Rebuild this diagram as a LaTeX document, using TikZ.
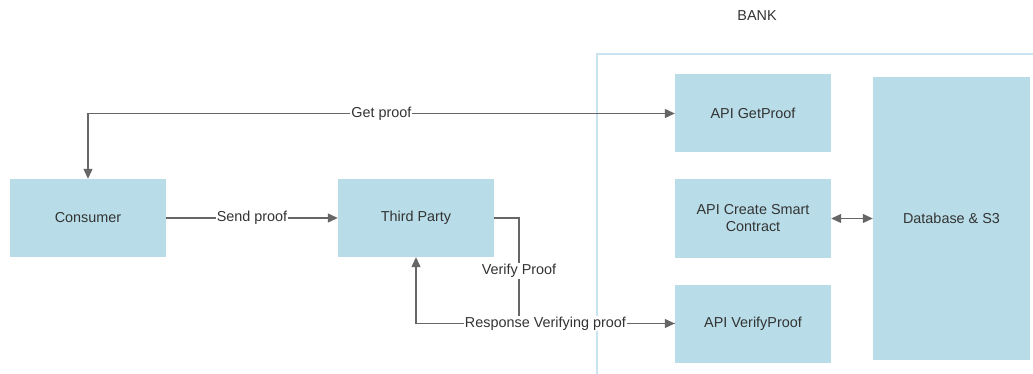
\documentclass[tikz,border=0pt]{standalone}
\usepackage{fontspec}
\setmainfont{Liberation Sans}
\usetikzlibrary{arrows.meta}
\definecolor{boxblue}{HTML}{B8DDE8}
\definecolor{textgray}{HTML}{333333}
\definecolor{linegray}{HTML}{666666}
\definecolor{bankline}{HTML}{C9E4F1}
\tikzset{
  box/.style={fill=boxblue, draw=none, minimum width=156pt, minimum height=78pt, inner sep=0pt,
    text=textgray, align=center, font=\fontsize{14.4}{17}\selectfont},
  lbl/.style={fill=white, inner sep=1pt, text=textgray, font=\fontsize{14.4}{17}\selectfont},
  conn/.style={draw=linegray, line width=1.2pt},
  tip/.style={-{Triangle[length=10pt,width=9pt]}},
  tips/.style={{Triangle[length=10pt,width=9pt]}-{Triangle[length=10pt,width=9pt]}}
}
\begin{document}
\begin{tikzpicture}[x=1pt,y=-1pt]
\useasboundingbox (0,0) rectangle (1033,374);
% bank container
\draw[bankline, line width=1.2pt] (597,380) -- (597,54) -- (1040,54);
\node[text=textgray, font=\fontsize{14.4}{17}\selectfont] (banklbl) at (757,16) {BANK};
% nodes
\node[box] (consumer) at (88,218) {Consumer};
\node[box] (third) at (416,218) {Third Party};
\node[box] (getproof) at (753,113.5) {API GetProof};
\node[box] (create) at (753,218.5) {API Create Smart\\Contract};
\node[box] (verify) at (753,323.5) {API VerifyProof};
\node[box, minimum width=157pt, minimum height=283pt] (db) at (951.5,218.5) {Database \& S3};
% connectors
\draw[conn, tips] (consumer.north) |- node[lbl, pos=0.75] {Get proof} (getproof.west);
\draw[conn, tip] (consumer.east) -- node[lbl] {Send proof} (third.west);
\coordinate (vbend) at (519,323.5);
\draw[conn, tip] (third.east) -| (vbend) -- (verify.west);
\node[lbl] (vlbl) at (519,271) {Verify Proof};
\draw[conn, tip] (verify.west) -| node[lbl, pos=0.25] {Response Verifying proof} (third.south);
\draw[conn, tips] (create.east) -- (db.west |- create.east);
\end{tikzpicture}
\end{document}
